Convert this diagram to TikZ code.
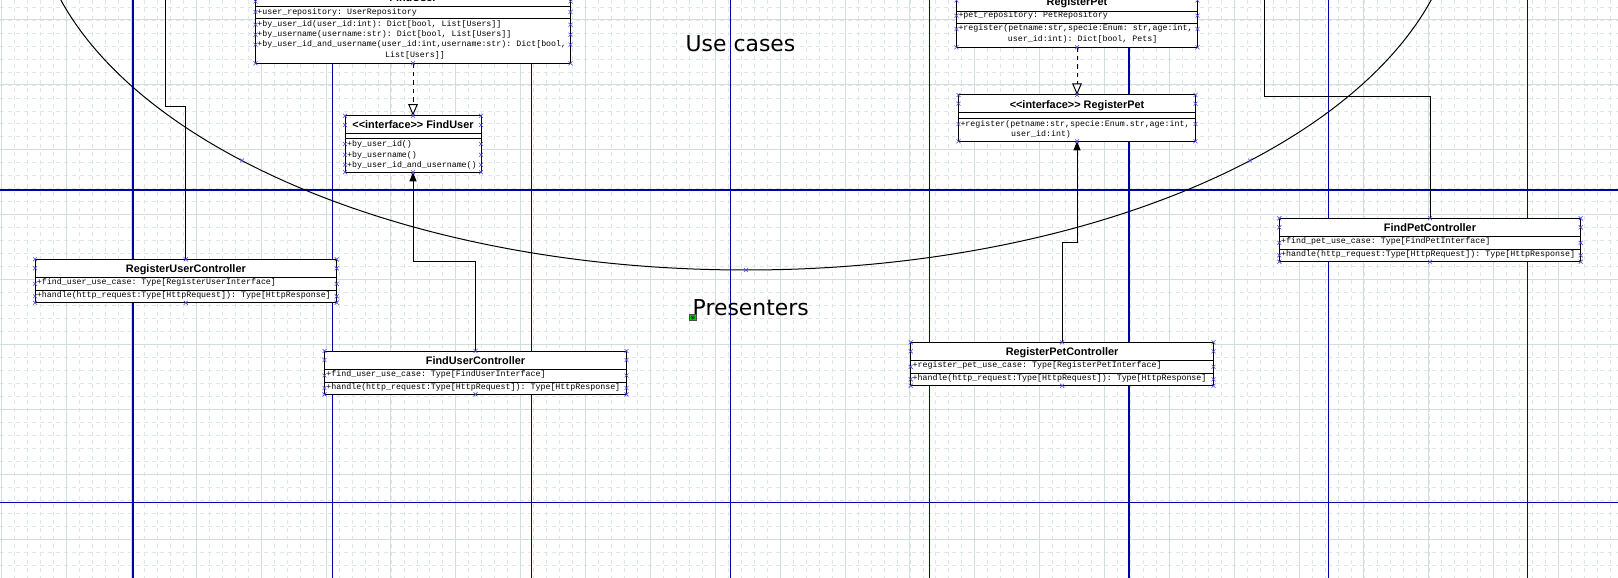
\documentclass[tikz,border=0pt]{standalone}
\usepackage{fontspec}
\setmainfont{Liberation Sans}
\newfontfamily\monof{Liberation Mono}
\newfontfamily\titlef{Liberation Sans}
\newfontfamily\labelf{DejaVu Sans}
\usetikzlibrary{arrows.meta}
\definecolor{gridc}{RGB}{210,222,222}
\definecolor{gridm}{RGB}{222,231,231}
\definecolor{pageblue}{RGB}{0,0,168}
\definecolor{markc}{RGB}{70,70,235}
\definecolor{selgreen}{RGB}{0,200,0}
\tikzset{
 minorgrid/.style={gridm, line width=0.7pt, dash pattern=on 4pt off 4pt},
 majorgrid/.style={gridc, line width=1pt},
 pageline/.style={pageblue, line width=1.1pt},
 umlbox/.style={draw=black, fill=white, line width=1pt, inner sep=0pt, outer sep=0pt, rectangle},
 sepline/.style={black, line width=1pt},
 mono/.style={font=\monof\fontsize{8.3}{10}\selectfont\frenchspacing, inner sep=0pt, text=black},
 ttl/.style={font=\titlef\bfseries\fontsize{10.9}{12}\selectfont, inner sep=0pt},
 biglabel/.style={font=\labelf\fontsize{21.9}{24}\selectfont, inner sep=0pt},
 conn/.style={black, line width=1pt},
 realize/.style={conn, dash pattern=on 4.5pt off 4pt, -{Triangle[open, length=11.5pt, width=9.5pt]}},
 assoc/.style={conn, -{Triangle[length=9pt, width=7pt]}},
 markline/.style={markc, line width=0.6pt},
}
\newcommand\xmk[2]{\draw[markline] (#1,#2) +(-2,-2) -- +(2,2) +(-2,2) -- +(2,-2);}
\newcommand\umlrect[5]{\node[umlbox, anchor=north west, minimum width={(#4-#2)*1pt}, minimum height={(#5-#3)*1pt}] (#1) at (#2,#3) {};}
\newcommand\boxmarks[6]{\xmk{#1}{#4}\xmk{#3}{#4}\xmk{#2}{#4}\xmk{#1}{#5}\xmk{#3}{#5}\xmk{#2}{#5}\foreach \yy in {#6}{\xmk{#1}{\yy}\xmk{#2}{\yy}}}
\begin{document}
\begin{tikzpicture}[x=1pt,y=-1pt]
\useasboundingbox (0,0) rectangle (1618,578);
\clip (0,0) rectangle (1618,578);
\fill[white] (0,0) rectangle (1618,578);
% grid
\foreach \i in {0,...,124} \draw[minorgrid] ({1.7+12.974*\i},0) -- ({1.7+12.974*\i},578);
\foreach \j in {-1,...,42} \draw[minorgrid] (0,{20+12.98*\j}) -- (1618,{20+12.98*\j});
\foreach \i in {0,...,24} \draw[majorgrid] ({1.7+64.87*\i},0) -- ({1.7+64.87*\i},578);
\foreach \j in {0,...,8} \draw[majorgrid] (0,{20+64.9*\j}) -- (1618,{20+64.9*\j});
% page lines
\foreach \i in {0,...,7} \draw[pageline] ({133+199.2*\i},0) -- ({133+199.2*\i},578);
\draw[pageline] (0,190) -- (1618,190);
\draw[pageline] (0,502.3) -- (1618,502.3);
% use case ellipse
\draw[conn] (746,-103.7) ellipse [x radius=713pt, y radius=373.7pt];
\node[biglabel, anchor=base] (uclabel) at (740.5,52) {Use cases};
\node[biglabel, anchor=base west] (prlabel) at (692.5,315) {Presenters};
\draw[fill=selgreen, draw=black!70, line width=0.5pt] (689.5,314.3) rectangle (696,320.7);
\draw[black!80, line width=0.4pt] (692.75,317.5) circle (1.8pt) (691.5,316.2) -- (694,318.8) (691.5,318.8) -- (694,316.2);

% ---- FindUser class
\umlrect{fucl}{255.5}{-11.5}{570.5}{63.3}
\draw[sepline] (255.5,6.3) -- (570.5,6.3);
\draw[sepline] (255.5,19) -- (570.5,19);
\node[ttl, anchor=base] (fucl-t) at (413,1.7) {FindUser};
\node[mono, anchor=base west] (fucl-a) at (257.2,14.2) {+user\_repository: UserRepository};
\node[mono, anchor=base west] (fucl-m1) at (257.2,26.7) {+by\_user\_id(user\_id:int): Dict[bool, List[Users]]};
\node[mono, anchor=base west] (fucl-m2) at (257.2,36.7) {+by\_username(username:str): Dict[bool, List[Users]]};
\node[mono, anchor=base west] (fucl-m3) at (257.2,46.7) {+by\_user\_id\_and\_username(user\_id:int,username:str): Dict[bool,};
\node[mono, anchor=base] (fucl-m4) at (415,57.2) {List[Users]]};

% ---- FindUser interface
\umlrect{fui}{345}{115.7}{481}{172.3}
\draw[sepline] (345,133.4) -- (481,133.4);
\draw[sepline] (345,138.3) -- (481,138.3);
\node[ttl, anchor=base] (fui-t) at (413,128.7) {{<}{<}interface{>}{>} FindUser};
\node[mono, anchor=base west] (fui-m1) at (347,146.6) {+by\_user\_id()};
\node[mono, anchor=base west] (fui-m2) at (347,157) {+by\_username()};
\node[mono, anchor=base west] (fui-m3) at (347,167.2) {+by\_user\_id\_and\_username()};

% ---- RegisterPet class
\umlrect{rpcl}{956.5}{-7.5}{1197.5}{47.3}
\draw[sepline] (956.5,11.3) -- (1197.5,11.3);
\draw[sepline] (956.5,24) -- (1197.5,24);
\node[ttl, anchor=base] (rpcl-t) at (1077,5.5) {RegisterPet};
\node[mono, anchor=base west] (rpcl-a) at (958.3,18) {+pet\_repository: PetRepository};
\node[mono, anchor=base west] (rpcl-m1) at (958.3,31) {+register(petname:str,specie:Enum: str,age:int,};
\node[mono, anchor=base west] (rpcl-m2) at (1007.7,41.5) {user\_id:int): Dict[bool, Pets]};

% ---- RegisterPet interface
\umlrect{rpi}{958.5}{95}{1195.5}{141.3}
\draw[sepline] (958.5,112.7) -- (1195.5,112.7);
\draw[sepline] (958.5,118.3) -- (1195.5,118.3);
\node[ttl, anchor=base] (rpi-t) at (1077,108) {{<}{<}interface{>}{>} RegisterPet};
\node[mono, anchor=base west] (rpi-m1) at (960.3,126.5) {+register(petname:str,specie:Enum.str,age:int,};
\node[mono, anchor=base west] (rpi-m2) at (1011,136.5) {user\_id:int)};

% ---- RegisterUserController
\umlrect{ruc}{35}{259.3}{336.7}{302.7}
\draw[sepline] (35,277.6) -- (336.7,277.6);
\draw[sepline] (35,290.3) -- (336.7,290.3);
\node[ttl, anchor=base] (ruc-t) at (185.85,272.3) {RegisterUserController};
\node[mono, anchor=base west] (ruc-a) at (36.7,284.6) {+find\_user\_use\_case: Type[RegisterUserInterface]};
\node[mono, anchor=base west] (ruc-m) at (36.7,297.6) {+handle(http\_request:Type[HttpRequest]): Type[HttpResponse]};

% ---- FindUserController
\umlrect{fuc}{324.5}{351}{626.5}{394.4}
\draw[sepline] (324.5,369.3) -- (626.5,369.3);
\draw[sepline] (324.5,382) -- (626.5,382);
\node[ttl, anchor=base] (fuc-t) at (475.5,364) {FindUserController};
\node[mono, anchor=base west] (fuc-a) at (326.2,376.3) {+find\_user\_use\_case: Type[FindUserInterface]};
\node[mono, anchor=base west] (fuc-m) at (326.2,389.3) {+handle(http\_request:Type[HttpRequest]): Type[HttpResponse]};

% ---- RegisterPetController
\umlrect{rpc}{910.7}{342.3}{1213.5}{385.7}
\draw[sepline] (910.7,360.6) -- (1213.5,360.6);
\draw[sepline] (910.7,373.3) -- (1213.5,373.3);
\node[ttl, anchor=base] (rpc-t) at (1062.1,355.3) {RegisterPetController};
\node[mono, anchor=base west] (rpc-a) at (912.4,367.6) {+register\_pet\_use\_case: Type[RegisterPetInterface]};
\node[mono, anchor=base west] (rpc-m) at (912.4,380.6) {+handle(http\_request:Type[HttpRequest]): Type[HttpResponse]};

% ---- FindPetController
\umlrect{fpc}{1279.3}{218.3}{1580.7}{261.7}
\draw[sepline] (1279.3,236.6) -- (1580.7,236.6);
\draw[sepline] (1279.3,249.3) -- (1580.7,249.3);
\node[ttl, anchor=base] (fpc-t) at (1430,231.3) {FindPetController};
\node[mono, anchor=base west] (fpc-a) at (1281,243.6) {+find\_pet\_use\_case: Type[FindPetInterface]};
\node[mono, anchor=base west] (fpc-m) at (1281,256.6) {+handle(http\_request:Type[HttpRequest]): Type[HttpResponse]};

% ---- connectors
\coordinate (rucK) at (165.7,106.3);
\coordinate (rucEnd) at (165.7,-20);
\draw[conn] (ruc.north) |- (rucK) -- (rucEnd);
\coordinate (fucK) at (413,261);
\draw[assoc] (fuc.north) |- (fucK) -- (fui.south);
\draw[realize] (fucl.south) -- (fui.north);
\coordinate (rpcK) at (1077,242.5);
\draw[assoc] (rpc.north) |- (rpcK) -- (rpi.south);
\draw[realize] (rpcl.south) -- (rpi.north);
\coordinate (fpcK) at (1264.7,96.7);
\coordinate (fpcEnd) at (1264.7,-20);
\draw[conn] (fpc.north) |- (fpcK) -- (fpcEnd);

% ---- connection point marks
\boxmarks{255.5}{570.5}{413}{-11.5}{63.3}{1.5,12,24.7,34.7,44.7}
\boxmarks{345}{481}{413}{115.7}{172.3}{125,144,154.7,164.7}
\boxmarks{956.5}{1197.5}{1077}{-7.5}{47.3}{0.5,15.7,29}
\boxmarks{958.5}{1195.5}{1077}{95}{141.3}{103.7,124}
\boxmarks{35}{336.7}{185.85}{259.3}{302.7}{268.3,283.8,296.3}
\boxmarks{324.5}{626.5}{475.5}{351}{394.4}{360,375.5,388}
\boxmarks{910.7}{1213.5}{1062.1}{342.3}{385.7}{351.3,366.8,379.3}
\boxmarks{1279.3}{1580.7}{1430}{218.3}{261.7}{227.3,242.8,255.3}
\xmk{746}{270}
\xmk{242}{160.5}
\xmk{1250}{160.5}
\end{tikzpicture}
\end{document}
